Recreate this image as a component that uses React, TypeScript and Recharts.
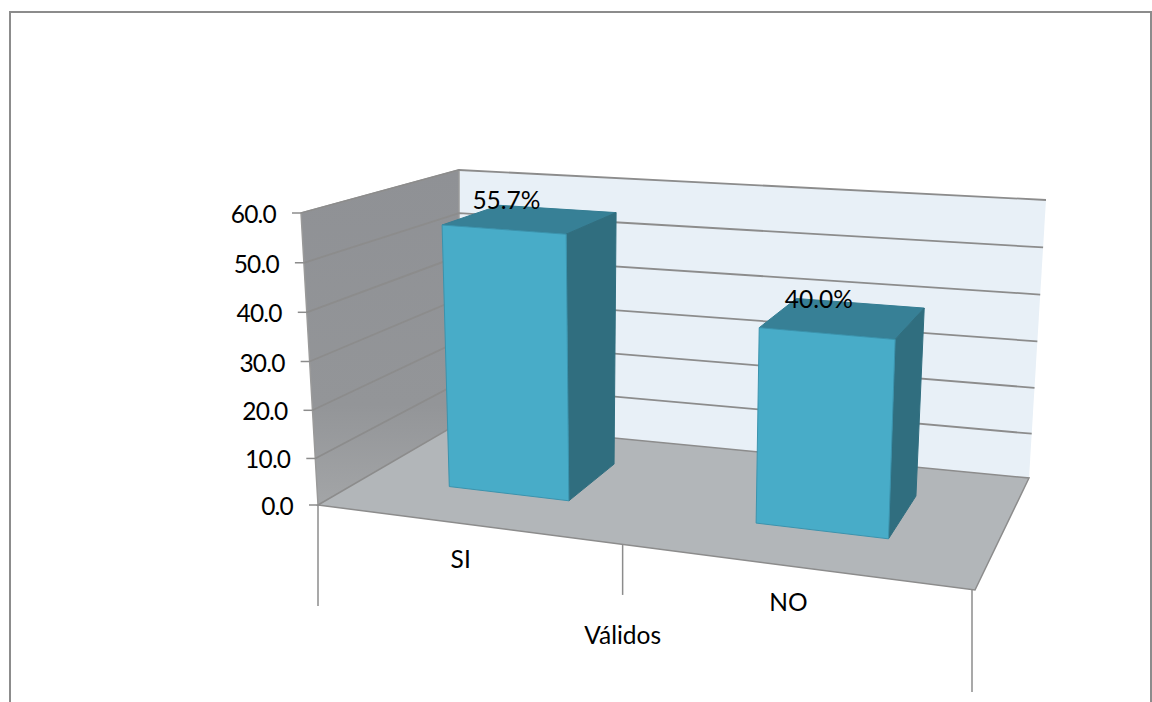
import { BarChart, Bar, XAxis, YAxis, Customized, LabelList } from 'recharts';

const categories = ['SI', 'NO'];
const values = [55.7, 40.0];
const yTicks = [0, 10, 20, 30, 40, 50, 60];
const yMax = 60;
const groupLabel = 'Válidos';

const W = 1152;
const H = 702;
const M = { left: 299, right: 152, top: 200, bottom: 201 };
const PL = M.left + 1;
const PW = 700;
const PH = 300;

const FONT = 'Lato, Carlito, sans-serif';
const FONT_SIZE = 24.5;
const LINE = '#8c8c8c';

type Pt = [number, number];

// Corners of the 3D box as they appear on screen
const floor = { fl: [318, 505], fr: [975, 590], br: [1029, 478], bl: [459, 423] };
const ceil = { fl: [301, 213], fr: [988, 268], br: [1046, 200], bl: [459, 170] };

function bilinear(q: typeof floor, u: number, d: number): Pt {
  const get = (i: number) =>
    (1 - d) * ((1 - u) * q.fl[i] + u * q.fr[i]) + d * ((1 - u) * q.bl[i] + u * q.br[i]);
  return [get(0), get(1)];
}

// u along the category axis, v up the value axis, d into the depth
function project(u: number, v: number, d: number): Pt {
  const uw = Math.pow(u, 1.09) + 0.06 * u * (1 - u) * (1 - 2 * u);
  const vw = Math.pow(v, 1.025);
  const a = bilinear(floor, uw, d);
  const b = bilinear(ceil, uw, d);
  return [a[0] + (b[0] - a[0]) * vw, a[1] + (b[1] - a[1]) * vw];
}

const poly = (pts: Pt[]) => pts.map((p) => p.join(',')).join(' ');
const toU = (x: number) => (x - PL) / PW;
const toV = (y: number) => (M.top + PH - y) / PH;

const D_FRONT = 0.345;
const D_BACK = 0.745;

function Bar3D(props: any) {
  const { x, y, width, height } = props;
  const u0 = toU(x);
  const u1 = toU(x + width);
  const v = toV(y);
  const v0 = toV(y + height);
  const fbl = project(u0, v0, D_FRONT);
  const fbr = project(u1, v0, D_FRONT);
  const ftl = project(u0, v, D_FRONT);
  const ftr = project(u1, v, D_FRONT);
  const btl = project(u0, v, D_BACK);
  const btr = project(u1, v, D_BACK);
  const bbr = project(u1, v0, D_BACK);
  return (
    <g strokeLinejoin="round">
      <polygon points={poly([ftl, ftr, btr, btl])} fill="#378096" stroke="#357d93" />
      <polygon points={poly([ftr, fbr, bbr, btr])} fill="#306e7f" stroke="#306e7f" />
      <polygon points={poly([ftl, ftr, fbr, fbl])} fill="#48acc8" stroke="#3b93ad" />
    </g>
  );
}

function BarLabel(props: any) {
  const { x, y, width, value } = props;
  const p = project(toU(x + width / 2), toV(y), (D_FRONT + D_BACK) / 2);
  return (
    <text x={p[0] - 24} y={p[1] - 10} textAnchor="middle" fontFamily={FONT} fontSize={FONT_SIZE} fill="#000">
      {value.toFixed(1)}%
    </text>
  );
}

function Walls() {
  const bands = categories.length;
  const boundaries = Array.from({ length: bands + 1 }, (_, i) => i / bands);
  const drops = [101, 50, 102];
  const nudges = [0, -4, -3];
  const mid = project(0.5, 0, 0);
  return (
    <g>
      <defs>
        <linearGradient id="leftWall" x1="0" y1="0" x2="0" y2="1">
          <stop offset="0" stopColor="#8f9195" />
          <stop offset="0.7" stopColor="#939598" />
          <stop offset="1" stopColor="#a3a5a7" />
        </linearGradient>
      </defs>
      <polygon points={poly([project(0, 0, 1), project(1, 0, 1), project(1, 1, 1), project(0, 1, 1)])} fill="#e8f0f7" />
      <polygon points={poly([project(0, 0, 0), project(0, 0, 1), project(0, 1, 1), project(0, 1, 0)])} fill="url(#leftWall)" stroke="#9a9a9a" strokeWidth={1.5} />
      <polygon points={poly([project(0, 0, 0), project(1, 0, 0), project(1, 0, 1), project(0, 0, 1)])} fill="#b2b6b9" stroke={LINE} strokeWidth={1.5} />
      {boundaries.map((b, i) => {
        const p = project(b, 0, 0);
        return <line key={b} x1={p[0] + nudges[i]} y1={p[1]} x2={p[0] + nudges[i]} y2={p[1] + drops[i]} stroke={LINE} strokeWidth={1.5} />;
      })}
      <text x={mid[0] - 4} y={mid[1] + 99} textAnchor="middle" fontFamily={FONT} fontSize={FONT_SIZE} fill="#000">
        {groupLabel}
      </text>
    </g>
  );
}

function GridLines() {
  return (
    <g>
      {yTicks.map((t) => {
        const v = t / yMax;
        const front = project(0, v, 0);
        const corner = project(0, v, 1);
        const right = project(1, v, 1);
        return (
          <g key={t}>
            <line x1={front[0] - 9} y1={front[1]} x2={front[0]} y2={front[1]} stroke={LINE} strokeWidth={1.5} />
            {t > 0 && <polyline points={poly([front, corner, right])} fill="none" stroke={LINE} strokeWidth={1.8} />}
          </g>
        );
      })}
    </g>
  );
}

function YTick(props: any) {
  const { y, payload } = props;
  const p = project(0, toV(y), 0);
  return (
    <text x={p[0] - 25} y={p[1] + 10} textAnchor="end" letterSpacing={-0.8} fontFamily={FONT} fontSize={FONT_SIZE} fill="#000">
      {payload.value.toFixed(1)}
    </text>
  );
}

function XTick(props: any) {
  const { x, payload } = props;
  const p = project(toU(x), 0, 0);
  return (
    <text x={p[0] - 6} y={p[1] + 44} textAnchor="middle" fontFamily={FONT} fontSize={FONT_SIZE} fill="#000">
      {payload.value}
    </text>
  );
}

const rows = categories.map((c, i) => ({ name: c, value: values[i] }));

export default function App() {
  return (
    <div style={{ position: 'absolute', left: 0, top: 0, width: W, height: H, overflow: 'hidden', background: '#fff' }}>
      <div style={{ position: 'absolute', left: 9, top: 11, width: 1139, height: 700, border: '2px solid #8c8c8c', boxSizing: 'content-box' }} />
      <div style={{ position: 'absolute', left: 0, top: 0 }}>
        <BarChart width={W} height={H} data={rows} margin={M} barCategoryGap="30%">
          <Customized component={Walls} />
          <Customized component={GridLines} />
          <XAxis dataKey="name" height={1} axisLine={false} tickLine={false} interval={0} tick={XTick as any} />
          <YAxis width={1} domain={[0, yMax]} ticks={yTicks} axisLine={false} tickLine={false} interval={0} tick={YTick as any} />
          <Bar dataKey="value" shape={Bar3D as any} isAnimationActive={false}>
            <LabelList dataKey="value" content={BarLabel as any} />
          </Bar>
        </BarChart>
      </div>
    </div>
  );
}
